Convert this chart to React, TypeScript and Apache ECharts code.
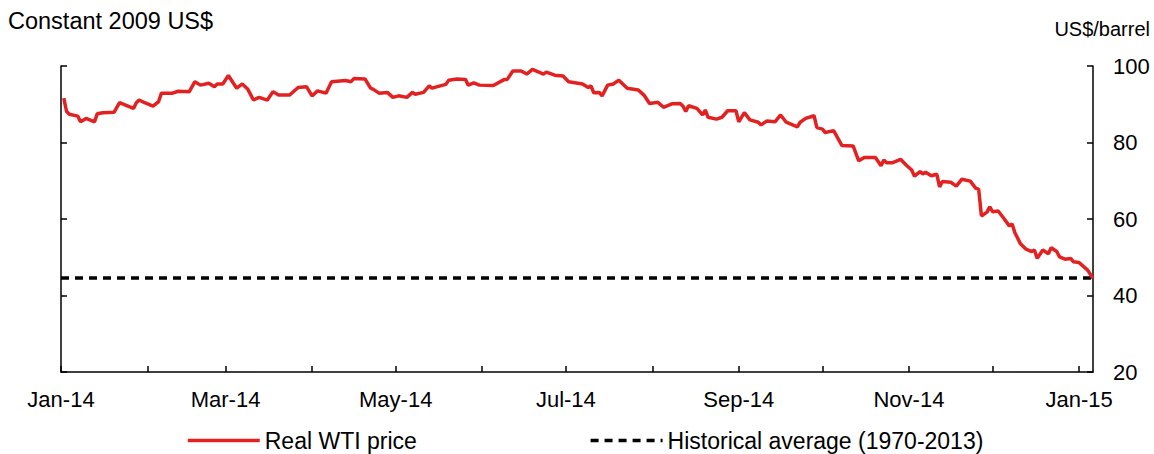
import React, { useEffect, useRef } from "react";
import * as echarts from "echarts";

const FONT = "'Liberation Sans', Arial, sans-serif";

const axisStart = "2014-01-01";
const axisEnd = "2015-01-06";
const monthNames = ["Jan", "Feb", "Mar", "Apr", "May", "Jun", "Jul", "Aug", "Sep", "Oct", "Nov", "Dec"];
const yTicks = [20, 40, 60, 80, 100];

const dates = [
  "2014-01-02", "2014-01-03", "2014-01-04", "2014-01-07", "2014-01-08", "2014-01-10", "2014-01-13", "2014-01-14",
  "2014-01-16", "2014-01-20", "2014-01-22", "2014-01-25", "2014-01-27", "2014-01-28", "2014-01-29", "2014-01-31",
  "2014-02-03", "2014-02-05", "2014-02-06", "2014-02-10", "2014-02-12", "2014-02-16", "2014-02-18", "2014-02-20",
  "2014-02-23", "2014-02-25", "2014-02-26", "2014-02-28",
  "2014-03-02", "2014-03-05", "2014-03-07", "2014-03-09", "2014-03-11", "2014-03-13", "2014-03-16", "2014-03-18",
  "2014-03-20", "2014-03-24", "2014-03-27", "2014-03-30",
  "2014-04-01", "2014-04-03", "2014-04-06", "2014-04-08", "2014-04-13", "2014-04-15", "2014-04-16", "2014-04-20",
  "2014-04-22", "2014-04-23", "2014-04-25", "2014-04-28", "2014-04-30",
  "2014-05-02", "2014-05-05", "2014-05-07", "2014-05-08", "2014-05-11", "2014-05-13", "2014-05-14", "2014-05-19",
  "2014-05-20", "2014-05-23", "2014-05-26", "2014-05-27", "2014-05-29", "2014-05-31",
  "2014-06-05", "2014-06-09", "2014-06-10", "2014-06-12", "2014-06-15", "2014-06-17", "2014-06-19", "2014-06-23",
  "2014-06-24", "2014-06-27", "2014-06-30",
  "2014-07-02", "2014-07-07", "2014-07-09", "2014-07-10", "2014-07-11", "2014-07-13", "2014-07-14", "2014-07-16",
  "2014-07-18", "2014-07-20", "2014-07-23", "2014-07-27", "2014-07-29", "2014-07-31",
  "2014-08-03", "2014-08-05", "2014-08-08", "2014-08-11", "2014-08-12", "2014-08-13", "2014-08-14", "2014-08-17",
  "2014-08-19", "2014-08-20", "2014-08-21", "2014-08-24", "2014-08-26", "2014-08-28", "2014-08-31",
  "2014-09-01", "2014-09-03", "2014-09-05", "2014-09-08", "2014-09-09", "2014-09-11", "2014-09-14", "2014-09-16",
  "2014-09-18", "2014-09-22", "2014-09-23", "2014-09-25", "2014-09-28", "2014-09-29",
  "2014-10-01", "2014-10-02", "2014-10-05", "2014-10-08", "2014-10-12", "2014-10-14", "2014-10-16", "2014-10-20",
  "2014-10-22", "2014-10-23", "2014-10-24", "2014-10-26", "2014-10-29", "2014-10-31",
  "2014-11-02", "2014-11-03", "2014-11-05", "2014-11-06", "2014-11-07", "2014-11-09", "2014-11-11", "2014-11-12",
  "2014-11-13", "2014-11-16", "2014-11-18", "2014-11-20", "2014-11-23", "2014-11-25", "2014-11-26", "2014-11-27",
  "2014-11-29", "2014-11-30",
  "2014-12-01", "2014-12-03", "2014-12-05", "2014-12-07", "2014-12-08", "2014-12-09", "2014-12-11", "2014-12-13",
  "2014-12-15", "2014-12-16", "2014-12-17", "2014-12-19", "2014-12-21", "2014-12-22", "2014-12-24", "2014-12-25",
  "2014-12-27", "2014-12-29", "2014-12-30",
  "2015-01-01", "2015-01-04", "2015-01-06",
];

const realWti = [
  91.6, 88.1, 87.4, 86.9, 85.4, 86.3, 85.4, 87.5,
  87.8, 87.9, 90.4, 89.5, 88.9, 90.4, 91.1, 90.4,
  89.5, 90.7, 92.9, 92.9, 93.4, 93.3, 95.9, 95.0,
  95.5, 94.6, 95.3, 95.3,
  97.5, 94.2, 95.3, 93.9, 91.1, 91.8, 91.1, 93.3,
  92.4, 92.4, 94.4, 94.6,
  92.2, 93.5, 92.9, 95.9, 96.2, 95.9, 96.7, 96.6,
  94.2, 93.9, 92.9, 93.1, 91.8,
  92.2, 91.8, 93.1, 92.6, 93.1, 94.8, 94.2, 95.2,
  96.3, 96.6, 96.5, 95.0, 95.6, 95.0,
  94.9, 96.5, 96.5, 98.7, 98.7, 97.9, 99.1, 97.9,
  98.4, 97.6, 97.4,
  95.9, 95.3, 94.4, 94.8, 93.0, 93.1, 92.2, 95.0,
  95.3, 96.3, 94.2, 93.7, 92.4, 90.2,
  90.5, 89.2, 90.1, 90.2, 89.5, 88.1, 89.6, 88.9,
  87.2, 88.5, 86.6, 86.1, 86.6, 88.3, 88.3,
  85.4, 87.8, 85.9, 85.3, 84.6, 85.6, 85.4, 87.2,
  85.3, 84.1, 85.3, 86.3, 87.0, 83.9,
  83.5, 82.6, 83.1, 79.2, 79.1, 75.2, 76.1, 76.1,
  73.9, 75.4, 74.7, 74.7, 75.6, 74.1,
  72.8, 71.2, 72.4, 71.8, 72.2, 71.3, 71.7, 68.4,
  69.8, 69.6, 68.6, 70.4, 69.9, 68.0, 67.8, 60.8,
  61.8, 63.2,
  61.9, 62.1, 60.2, 58.2, 58.7, 56.4, 53.5, 52.1,
  51.5, 51.9, 49.7, 51.9, 50.9, 52.5, 51.5, 50.1,
  49.5, 49.7, 48.8,
  48.6, 46.7, 44.5,
];

const historicalAverage = 44.6;

const seriesNames = ["Real WTI price", "Historical average (1970-2013)"];

function parseDay(s: string): number {
  const [y, m, d] = s.split("-").map(Number);
  return new Date(y, m - 1, d).getTime();
}

const DAY = 86400000;

export default function App() {
  const ref = useRef<HTMLDivElement>(null);

  useEffect(() => {
    if (!ref.current) return;
    const chart = echarts.init(ref.current, undefined, { renderer: "svg" });
    const xMin = parseDay(axisStart);
    const xMax = parseDay(axisEnd);
    const wtiData = dates.map((d, i) => [parseDay(d), realWti[i]]);
    const avgData = [
      [xMin, historicalAverage],
      [xMax, historicalAverage],
    ];

    const yAxisBase = {
      type: "value",
      min: yTicks[0],
      max: yTicks[yTicks.length - 1],
      interval: 20,
      splitLine: { show: false },
      axisLine: { show: true, lineStyle: { color: "#000", width: 1.5 } },
      axisTick: { show: true, inside: true, length: 6, lineStyle: { color: "#000", width: 1.5 } },
    };

    chart.setOption({
      animation: false,
      backgroundColor: "#fff",
      textStyle: { fontFamily: FONT },
      grid: { left: 61, right: 61, top: 66, bottom: 82, containLabel: false },
      graphic: [
        {
          type: "text",
          left: 8,
          top: 9,
          style: { text: "Constant 2009 US$", font: `23.5px ${FONT}`, fill: "#000" },
        },
        {
          type: "text",
          right: 4,
          top: 19,
          style: { text: "US$/barrel", font: `20px ${FONT}`, fill: "#000" },
        },
      ],
      legend: {
        left: 181,
        top: 424,
        itemWidth: 72,
        itemHeight: 24,
        itemGap: 172,
        data: seriesNames,
        itemStyle: { opacity: 0 },
        lineStyle: { width: 3.5 },
        textStyle: { fontSize: 23, color: "#000", fontFamily: FONT },
      },
      xAxis: {
        type: "time",
        min: xMin,
        max: xMax,
        minInterval: 28 * DAY,
        maxInterval: 31 * DAY,
        splitLine: { show: false },
        axisLine: { show: true, lineStyle: { color: "#000", width: 1.5 } },
        axisTick: { show: true, inside: true, length: 6, lineStyle: { color: "#000", width: 1.5 } },
        axisLabel: {
          fontSize: 22,
          color: "#000",
          fontFamily: FONT,
          margin: 16,
          hideOverlap: false,
          showMaxLabel: false,
          formatter: (value: number) => {
            const d = new Date(value);
            if (d.getDate() !== 1) return "";
            const m = d.getMonth();
            if (m % 2 !== 0) return "";
            return `${monthNames[m]}-${String(d.getFullYear()).slice(2)}`;
          },
        },
      },
      yAxis: [
        {
          ...yAxisBase,
          position: "right",
          axisLabel: { show: true, fontSize: 22, color: "#000", fontFamily: FONT, margin: 20 },
        },
        {
          ...yAxisBase,
          position: "left",
          axisLabel: { show: false },
        },
      ],
      series: [
        {
          name: seriesNames[0],
          type: "line",
          yAxisIndex: 0,
          data: wtiData,
          showSymbol: false,
          symbol: "none",
          lineStyle: { color: "#e32121", width: 3.5 },
          itemStyle: { color: "#e32121" },
          z: 3,
        },
        {
          name: seriesNames[1],
          type: "line",
          yAxisIndex: 0,
          data: avgData,
          showSymbol: false,
          symbol: "none",
          lineStyle: { color: "#000", width: 3.5, type: [8, 6] },
          itemStyle: { color: "#000" },
          z: 2,
        },
      ],
    });
    return () => chart.dispose();
  }, []);

  return (
    <div
      ref={ref}
      style={{ position: "fixed", left: 0, top: 0, width: 1154, height: 454, background: "#fff" }}
    />
  );
}
